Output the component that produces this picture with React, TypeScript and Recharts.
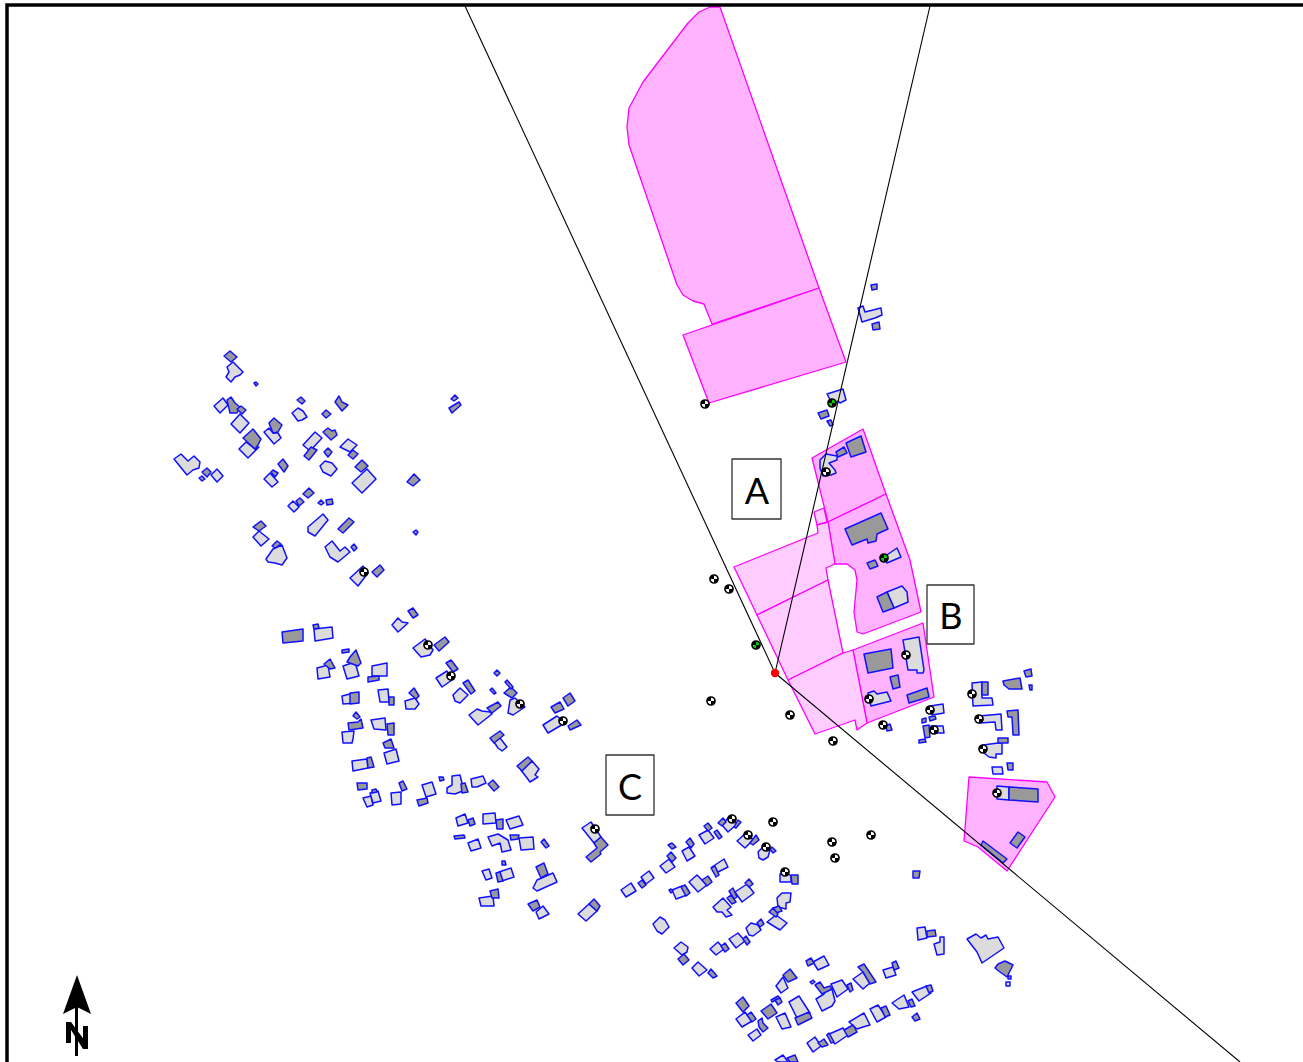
import { ScatterChart, Scatter, XAxis, YAxis } from 'recharts'

type Flat = number[]

const strongParcels: Flat[] = [
  [720,7,710,7,699,12,688,23,643,82,629,108,627,127,629,145,677,285,683,295,693,301,704,304,712,324,819,288],
  [683,335,819,288,846,362,709,403],
  [812,458,863,429,886,494,828,522],
  [828,522,886,494,910,560,921,612,863,634,857,632,854,612,857,580,855,570,847,564,835,564],
  [853,650,923,623,934,697,867,723],
  [969,777,1047,782,1055,797,1007,871,978,847,964,841],
]

const paleParcels: Flat[] = [
  [814,512,824,508,827,522,817,525],
  [734,567,818,533,817,525,828,522,835,564,826,568,828,580,757,615],
  [757,615,828,580,843,653,788,680],
  [788,680,843,653,853,650,867,723,857,730,855,720,815,734],
]

const lightBuildings: Flat[] = [
  // north-east group
  [858,308,863,306,865,312,881,308,882,315,875,318,862,322],
  [827,394,843,389,846,400,840,403,838,401,833,405],
  [820,460,826,454,837,456,837,460,829,463,835,470,836,473,831,475,823,476,820,468],
  [884,557,897,548,901,557,887,563],
  [887,592,902,586,907,592,908,602,894,608],
  [903,640,919,637,924,670,923,673,917,673,917,670,908,670],
  [868,693,874,691,877,694,887,692,891,701,871,706],
  [930,706,943,704,944,713,932,715],
  [931,726,943,726,944,733,932,733],
  [972,683,982,682,982,698,992,698,993,705,973,706],
  [979,716,1001,714,1002,730,996,730,995,722,980,723],
  [983,745,998,743,1002,743,1002,754,996,754,996,758,989,757,984,753],
  [992,767,1002,767,1003,774,993,774],
  [997,786,1009,787,1009,800,997,799],
  // north-west group
  [227,367,233,362,243,372,240,375,235,377,231,382,226,377,229,372],
  [214,406,223,398,228,405,220,413],
  [231,424,240,414,249,423,240,433],
  [239,449,246,442,255,449,259,447,248,458],
  [264,432,269,428,273,433,278,433,281,438,274,444],
  [292,413,298,408,303,411,307,417,302,420,298,421],
  [303,445,315,432,322,438,310,451],
  [340,447,348,439,357,445,350,452],
  [352,483,367,469,376,479,362,493],
  [320,466,325,461,332,463,337,469,331,476,323,472],
  [174,459,181,454,188,461,194,456,200,462,199,468,193,470,187,475],
  [211,475,217,469,223,476,217,482],
  [264,479,270,473,278,482,272,487],
  [288,506,293,501,299,507,294,512],
  [308,527,323,514,328,520,315,536,308,532],
  [253,537,259,531,269,539,261,546],
  [266,559,273,549,282,545,287,558,282,565,275,563,268,562],
  [325,547,332,541,340,551,345,547,350,552,338,562,330,557],
  [350,578,363,566,368,573,358,586],
  // middle-west group
  [314,629,332,627,333,638,315,641],
  [392,625,398,618,402,622,408,623,398,632],
  [413,648,425,639,433,650,430,655,421,657],
  [317,668,328,665,330,677,318,679],
  [343,666,355,662,359,676,347,679],
  [372,666,387,663,387,676,372,676],
  [342,696,354,693,356,703,343,704],
  [378,690,388,689,389,702,380,702],
  [405,701,415,698,419,704,415,709,406,709],
  [436,678,447,671,452,680,442,687],
  [453,695,460,688,468,695,460,703,455,701],
  [510,700,515,698,525,707,513,715,508,713],
  [469,715,477,709,482,711,490,712,492,714,478,725],
  [543,725,557,716,565,723,548,733],
  [342,732,354,731,353,739,352,743,343,743],
  [371,720,385,718,386,730,374,729],
  [384,753,396,749,399,761,387,764],
  [352,761,367,759,368,768,353,771],
  [494,742,500,738,507,747,502,751,498,748],
  [521,770,532,761,539,769,535,775,538,777,530,782],
  // south-west group
  [363,798,371,796,373,805,367,807],
  [370,793,378,791,381,801,373,803],
  [391,793,401,792,401,804,392,805],
  [422,785,432,782,436,794,426,797],
  [452,776,460,775,462,783,465,790,455,794,447,793,447,788,452,785],
  [471,779,483,776,486,783,477,787,472,787],
  [456,818,465,814,468,823,458,826],
  [483,814,495,813,496,823,483,824],
  [506,820,519,816,523,825,510,829],
  [468,843,478,839,481,848,471,851],
  [488,837,498,834,508,840,511,850,502,852,500,843,492,846],
  [519,838,533,837,534,849,521,850],
  [482,871,489,869,492,878,486,880],
  [499,872,511,868,514,877,502,881],
  [537,880,553,873,557,882,537,891,533,888],
  [479,898,493,896,494,906,481,906],
  [536,912,543,906,549,914,539,919],
  [578,914,589,904,597,911,586,921],
  [582,828,591,822,601,837,594,843],
  // south-middle group
  [621,890,631,883,636,891,626,897],
  [641,877,649,871,654,878,646,884],
  [660,866,669,859,675,867,666,873],
  [682,851,689,847,695,856,687,861],
  [699,835,708,830,714,838,705,844],
  [722,825,728,818,737,824,728,832],
  [737,841,747,832,753,840,745,848],
  [758,852,765,845,770,850,768,857,763,860,759,858],
  [780,874,787,873,791,876,791,882,780,882],
  [712,867,724,859,728,867,718,872],
  [689,882,697,875,707,885,698,892],
  [672,890,682,886,687,895,676,899],
  [735,892,747,884,754,893,742,902],
  [713,907,723,898,731,907,727,910,732,915,726,917,722,912,717,912],
  [777,898,782,893,791,893,790,902,786,903,786,909,778,907],
  [767,922,776,915,787,923,780,930],
  [746,928,751,923,758,925,761,930,753,936,749,935],
  [729,939,738,933,745,941,736,948],
  [710,949,718,942,724,949,716,955],
  [653,924,660,917,665,920,669,927,662,934,657,931],
  [674,948,681,942,688,947,687,952,682,955],
  [692,968,698,962,707,970,699,976],
  // south-east group
  [967,939,976,934,981,938,986,935,988,939,998,937,1004,948,982,963,977,952],
  [917,928,925,927,927,938,918,940],
  [934,944,940,942,940,937,944,937,944,954,937,955],
  [883,970,893,967,896,975,886,978],
  [853,979,863,972,870,983,863,989],
  [831,984,842,980,848,989,837,997],
  [816,999,824,994,826,990,832,989,835,1001,832,1006,822,1011],
  [813,962,824,956,829,965,818,970],
  [776,986,783,977,788,988,781,993],
  [736,1019,745,1012,752,1021,742,1027],
  [748,1035,757,1029,761,1035,753,1041],
  [789,1002,799,996,810,1013,797,1018],
  [776,1017,785,1013,791,1027,782,1029],
  [807,1043,815,1037,821,1046,813,1052],
  [827,1035,843,1028,848,1035,835,1044],
  [849,1022,864,1013,870,1025,863,1027,857,1029],
  [870,1009,878,1005,886,1017,877,1022],
  [892,1003,904,995,909,1007,899,1009],
  [912,992,927,986,931,993,919,1001],
  [775,1060,783,1055,788,1062,778,1062],
  [1006,982,1010,982,1010,986,1006,986],
]

const darkBuildings: Flat[] = [
  // north-east group
  [871,285,877,284,877,289,872,290],
  [872,324,879,322,880,329,873,330],
  [818,413,827,410,829,416,821,419],
  [827,421,831,420,833,425,830,426],
  [846,443,861,436,866,452,851,457],
  [836,452,844,447,847,453,838,457],
  [845,529,881,513,888,529,877,534,876,541,868,543,867,539,852,545],
  [867,563,875,560,878,566,870,569],
  [877,597,887,592,894,608,883,612],
  [864,654,891,649,893,668,868,673],
  [890,677,898,675,900,687,893,689],
  [907,695,927,688,929,697,909,703],
  [929,717,935,716,936,719,930,721],
  [922,719,926,718,926,722,922,723],
  [886,726,890,724,892,730,887,731],
  [923,726,929,725,930,737,925,738],
  [919,740,925,739,926,742,919,743],
  [982,682,988,682,988,695,982,695],
  [1003,681,1020,678,1022,689,1009,689,1004,685],
  [1024,671,1031,669,1032,676,1026,677],
  [1029,685,1032,685,1032,690,1030,690],
  [1007,711,1018,710,1019,735,1013,735,1012,717,1008,717],
  [998,738,1008,738,1008,743,998,743],
  [1007,763,1013,763,1013,770,1008,770],
  [1009,787,1038,789,1038,802,1009,800],
  [1018,832,1025,837,1017,848,1010,843],
  [983,841,1007,859,1003,863,981,845],
  [913,871,920,871,919,878,913,878],
  // north-west group
  [224,356,230,351,237,357,231,362],
  [254,383,256,382,258,384,256,386],
  [227,400,231,397,235,403,240,407,237,413,230,413],
  [237,409,241,406,246,410,242,414],
  [243,438,253,429,261,439,258,445,255,449],
  [269,423,274,418,282,425,278,432,273,433],
  [297,400,301,397,305,401,302,404],
  [322,414,326,410,331,414,326,418],
  [335,402,339,396,342,402,348,405,342,411],
  [323,432,328,428,332,431,335,430,337,435,331,440],
  [304,456,311,447,317,450,313,455,309,460],
  [324,452,328,448,332,452,328,457],
  [348,455,353,450,358,454,353,459],
  [355,467,362,460,368,466,361,472],
  [407,482,414,474,420,480,413,486],
  [202,472,207,468,211,472,207,477],
  [199,478,202,476,205,479,202,481],
  [278,464,283,459,288,466,284,472],
  [271,472,273,470,278,473,275,477],
  [303,494,309,488,314,493,308,498],
  [296,501,300,498,304,502,299,506],
  [318,503,321,500,324,503,321,505],
  [326,500,332,499,333,504,327,505],
  [338,529,349,518,354,522,343,533],
  [253,527,261,521,266,526,259,531],
  [272,546,277,541,281,544,275,548],
  [351,547,354,544,357,548,354,551],
  [413,532,416,530,418,532,416,535],
  [372,572,380,565,384,570,377,577],
  [449,408,459,402,461,405,452,413],
  [451,399,455,395,458,398,454,401],
  // middle-west group
  [282,632,303,629,303,641,283,643],
  [313,625,318,624,319,628,314,629],
  [408,611,413,608,418,615,413,618],
  [434,645,445,637,449,642,439,651],
  [342,650,349,649,349,652,342,653],
  [350,657,356,650,361,663,358,666,347,662],
  [324,664,330,659,335,668,330,669],
  [368,677,379,676,379,680,368,682],
  [350,693,359,692,359,703,350,704],
  [389,697,394,697,394,705,389,705],
  [409,693,414,688,419,696,416,699],
  [446,663,451,660,458,669,453,672],
  [463,683,468,680,475,691,471,694],
  [494,673,497,670,500,673,497,676],
  [490,690,492,688,496,693,494,694],
  [504,693,511,687,517,693,512,698],
  [505,682,507,680,513,687,511,689],
  [487,708,498,702,501,706,492,713],
  [551,707,560,702,564,709,555,713],
  [563,698,570,693,575,701,568,706],
  [568,726,577,720,581,725,570,730],
  [353,716,356,712,360,717,357,719],
  [348,723,358,722,361,719,363,728,349,730],
  [387,724,394,723,394,735,388,735],
  [383,743,391,739,394,748,385,748],
  [367,758,371,757,374,767,368,768],
  [490,738,500,731,504,735,494,743],
  [517,766,528,757,532,761,522,771],
  // south-west group
  [357,783,367,783,367,789,358,790],
  [372,790,376,789,377,792,372,793],
  [399,783,403,781,407,789,402,791],
  [417,800,427,798,428,803,419,806],
  [439,777,443,777,444,780,440,781],
  [461,784,465,783,468,792,462,793],
  [488,784,493,780,499,787,494,791],
  [468,820,473,818,475,824,470,826],
  [496,820,503,819,503,829,497,829],
  [454,836,464,835,465,838,455,839],
  [510,835,519,835,518,839,511,840],
  [541,842,544,839,549,846,546,848],
  [502,861,505,861,506,865,502,865],
  [496,873,500,872,503,881,498,882],
  [536,867,544,863,548,874,541,878],
  [490,891,498,889,499,898,492,898],
  [528,904,537,900,540,907,533,911],
  [589,904,594,899,600,906,597,911],
  [594,843,601,837,608,845,600,852,601,854,591,862,586,857,597,848],
  // south-middle group
  [638,883,642,880,646,885,642,888],
  [667,856,671,852,676,858,672,862],
  [668,845,672,843,676,847,672,849],
  [686,842,690,838,694,844,691,848],
  [704,826,708,823,712,828,708,831],
  [714,832,717,830,722,837,719,839],
  [718,823,723,818,726,822,722,826],
  [734,827,738,820,741,822,736,828],
  [750,843,756,835,759,840,753,845],
  [770,849,772,847,776,851,773,853],
  [791,875,798,875,798,884,792,884],
  [711,868,715,866,719,875,716,877],
  [702,880,708,876,712,882,707,886],
  [681,887,685,885,690,893,686,896],
  [669,890,671,889,673,891,671,893],
  [745,883,749,879,753,884,749,887],
  [729,891,733,888,737,897,734,899],
  [727,898,731,895,736,902,732,904],
  [773,908,779,906,782,911,776,913],
  [769,912,773,908,778,914,776,917],
  [757,923,761,919,764,924,760,927],
  [743,939,746,936,750,942,747,945],
  [721,946,725,943,729,949,725,952],
  [678,959,684,954,689,960,683,965],
  [708,973,711,969,717,976,713,978],
  // south-east group
  [995,968,998,964,1005,961,1013,965,1007,977,1000,972],
  [1008,976,1011,976,1011,979,1008,979],
  [927,931,935,930,936,936,927,937],
  [892,963,896,961,899,968,894,970],
  [858,967,864,964,876,982,870,984,863,972],
  [847,985,851,983,853,990,850,992],
  [815,985,820,982,824,988,830,986,832,989,822,994],
  [810,982,813,980,815,982,812,984],
  [783,975,790,969,797,978,788,982],
  [806,961,811,958,814,963,808,966],
  [771,1000,778,996,780,998,772,1002],
  [775,1000,780,998,782,1002,778,1005],
  [761,1011,771,1004,777,1013,768,1019],
  [736,1003,743,997,749,1006,743,1012],
  [747,1015,751,1012,756,1019,752,1022],
  [758,1021,762,1018,763,1023,768,1028,763,1032,759,1027],
  [795,1018,809,1012,812,1018,798,1025],
  [818,1043,824,1039,828,1045,822,1047],
  [827,1035,829,1033,834,1042,831,1043],
  [844,1030,853,1025,857,1032,848,1037],
  [881,1008,886,1006,890,1015,885,1017],
  [908,1001,912,999,915,1006,911,1007],
  [926,986,931,985,933,991,929,993],
  [912,1017,917,1013,920,1019,915,1021],
  [787,1058,795,1055,798,1062,790,1062],
]

const sightLines: Flat[] = [
  [465,6,775,673],
  [930,6,775,673],
  [775,673,1240,1062],
]

const frameLine: Flat = [7,1062,7,5,1303,5]

const labelBoxes: Flat[] = [
  [732,459,781,459,781,519,732,519],
  [927,585,974,585,974,644,927,644],
  [606,755,654,755,654,815,606,815],
]
const labelNames = ['A', 'B', 'C']
const labelCentres: Flat[] = [[757,490],[951,615],[630,786]]

const blackPoints: Flat[] = [
  [705,404],[826,472],[714,579],[729,589],[711,701],[790,715],[833,741],[906,655],[869,699],
  [883,725],[930,710],[934,730],[972,694],[979,719],[983,749],[997,793],[364,572],[428,645],
  [451,676],[520,704],[563,721],[595,829],[732,819],[748,835],[766,847],[785,872],[773,822],
  [832,842],[835,858],[871,835],
]
const greenPoints: Flat[] = [[832,403],[884,558],[756,645]]
const redPoints: Flat[] = [[775,673]]

const northArrow: Flat[] = [
  [77,975,91,1014,77,1007,63,1014],
  [75,1006,78,1006,78,1056,75,1056],
  [66,1022,71,1022,71,1043,66,1043],
  [83,1026,88,1026,88,1049,83,1049],
  [66,1022,71,1022,88,1045,88,1049,83,1049],
]

const toPoints = (flat: Flat) => {
  const out: { x: number; y: number }[] = []
  for (let i = 0; i < flat.length; i += 2) out.push({ x: flat[i], y: flat[i + 1] })
  return out
}

const noMark = () => null

function polygonSeries(flat: Flat, key: string, fill: string, stroke: string, strokeWidth: number) {
  return (
    <Scatter
      key={key}
      data={toPoints(flat)}
      isAnimationActive={false}
      shape={noMark}
      legendType="none"
      line={(p: any) => (
        <polygon
          points={p.points.map((q: any) => `${q.x},${q.y}`).join(' ')}
          fill={fill}
          stroke={stroke}
          strokeWidth={strokeWidth}
          strokeLinejoin="round"
        />
      )}
    />
  )
}

function lineSeries(flat: Flat, key: string, width: number) {
  return (
    <Scatter
      key={key}
      data={toPoints(flat)}
      isAnimationActive={false}
      shape={noMark}
      legendType="none"
      line={{ stroke: '#000', strokeWidth: width }}
    />
  )
}

function Ball({ cx, cy, tint, base }: { cx: number; cy: number; tint: string; base: string }) {
  const r = 4
  return (
    <g>
      <circle cx={cx} cy={cy} r={r} fill={base} stroke="#000" strokeWidth={1.7} />
      <path d={`M${cx} ${cy}L${cx - r} ${cy}A${r} ${r} 0 0 1 ${cx} ${cy - r}Z`} fill={tint} />
      <path d={`M${cx} ${cy}L${cx + r} ${cy}A${r} ${r} 0 0 1 ${cx} ${cy + r}Z`} fill={tint} />
    </g>
  )
}

export default function App() {
  return (
    <div style={{ position: 'absolute', left: 0, top: 0, width: 1303, height: 1062, background: '#fff' }}>
      <ScatterChart width={1303} height={1062} margin={{ top: 0, right: 0, bottom: 0, left: 0 }}>
        <XAxis type="number" dataKey="x" domain={[0, 1303]} hide />
        <YAxis type="number" dataKey="y" domain={[0, 1062]} reversed hide />

        {strongParcels.map((p, i) => polygonSeries(p, `strong-${i}`, '#FFB3FF', '#FF00FF', 1.3))}
        {paleParcels.map((p, i) => polygonSeries(p, `pale-${i}`, '#FFCCFF', '#FF00FF', 1.3))}
        {lightBuildings.map((p, i) => polygonSeries(p, `light-${i}`, '#DCDCDC', '#1010FF', 1.5))}
        {darkBuildings.map((p, i) => polygonSeries(p, `dark-${i}`, '#999999', '#1010FF', 1.5))}

        {sightLines.map((p, i) => lineSeries(p, `sight-${i}`, 1.1))}
        {lineSeries(frameLine, 'frame', 3.5)}
        {northArrow.map((p, i) => polygonSeries(p, `north-${i}`, '#000', 'none', 0))}
        {labelBoxes.map((p, i) => polygonSeries(p, `box-${i}`, '#fff', '#333', 1.3))}

        <Scatter
          data={labelCentres.map((c, i) => ({ x: c[0], y: c[1], name: labelNames[i] }))}
          isAnimationActive={false}
          legendType="none"
          shape={(p: any) => (
            <text
              x={p.cx}
              y={p.cy}
              textAnchor="middle"
              dominantBaseline="central"
              fontFamily="Lato, 'Open Sans', sans-serif"
              fontSize={36}
              fill="#000"
            >
              {p.payload.name}
            </text>
          )}
        />
        <Scatter
          data={blackPoints.map((c) => ({ x: c[0], y: c[1] }))}
          isAnimationActive={false}
          legendType="none"
          shape={(p: any) => <Ball cx={p.cx} cy={p.cy} tint="#000" base="#fff" />}
        />
        <Scatter
          data={greenPoints.map((c) => ({ x: c[0], y: c[1] }))}
          isAnimationActive={false}
          legendType="none"
          shape={(p: any) => <Ball cx={p.cx} cy={p.cy} tint="#000" base="#00D000" />}
        />
        <Scatter
          data={redPoints.map((c) => ({ x: c[0], y: c[1] }))}
          isAnimationActive={false}
          legendType="none"
          shape={(p: any) => <circle cx={p.cx} cy={p.cy} r={4.2} fill="#FF0000" />}
        />
      </ScatterChart>
    </div>
  )
}
